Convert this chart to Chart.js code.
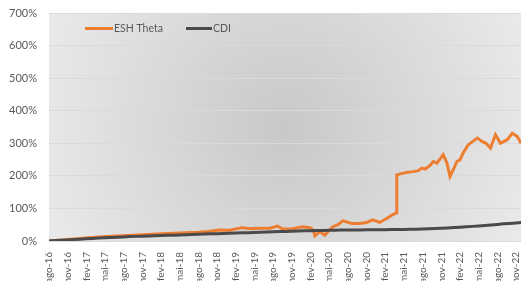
<!DOCTYPE html>
<html>
<head>
<meta charset="utf-8">
<script src="https://cdn.jsdelivr.net/npm/chart.js@4.4.1/dist/chart.umd.min.js"></script>
<style>
  html, body { margin: 0; padding: 0; background: #ffffff; }
  #wrap { width: 521px; height: 281px; }
</style>
</head>
<body>
<div id="wrap"><canvas id="equityChart" width="521" height="281"></canvas></div>
<script>
// x-axis tick labels, one every 3 months starting at ago-16 (month 0)
const tickLabels = ['ago-16', 'nov-16', 'fev-17', 'mai-17', 'ago-17', 'nov-17', 'fev-18', 'mai-18',
    'ago-18', 'nov-18', 'fev-19', 'mai-19', 'ago-19', 'nov-19', 'fev-20', 'mai-20', 'ago-20',
    'nov-20', 'fev-21', 'mai-21', 'ago-21', 'nov-21', 'fev-22', 'mai-22', 'ago-22', 'nov-22'];

// ESH Theta: months since ago-16 and cumulative return (%)
const eshMonths = [0, 2, 4, 6, 8, 10, 12, 14, 16, 18, 20, 22, 24, 25.5, 27.4, 29, 31, 32.5, 33.8,
    35.5, 36.7, 37.5, 39, 40.7, 41.9, 42.4, 42.7, 43.5, 44.3, 44.8, 45.6, 46.4, 47.2, 48.6, 49.9,
    51, 52, 53.1, 54.3, 55.1, 55.6, 55.8, 55.85, 56.4, 57.6, 58.5, 59.3, 59.9, 60.4, 61.2, 61.7,
    62.3, 63.3, 63.9, 64.4, 64.9, 65.5, 66, 66.5, 67.3, 68.8, 69.6, 70.2, 70.9, 71.7, 72.5, 73.6,
    74.4, 75.2, 75.8];
const eshValues = [0, 3, 6, 9, 12, 14.5, 16.5, 18.5, 20, 22, 23.5, 25.5, 27, 29, 34, 33, 41, 38, 39,
    39, 46, 37, 37, 44, 41, 35, 16, 29, 18, 29, 44, 50, 62, 54, 54,
    57, 65, 57, 70, 80, 85, 87, 203, 206, 211, 213, 216, 224, 221, 232, 244,
    239, 265, 240, 198, 218, 244, 249, 270, 295, 316, 305, 300, 285, 326, 300, 311,
    331, 321, 300];

// CDI: cumulative return (%), one value per month from ago-16
const cdiValues = [0, 1.2, 2.3, 3.4, 4.5, 5.7, 6.8, 7.8, 8.9, 9.8, 10.8, 11.7, 12.6, 13.5, 14.2,
    14.9, 15.6, 16.2, 16.8, 17.4, 18.0, 18.6, 19.3, 19.9, 20.6, 21.2, 21.9, 22.5, 23.1, 23.8,
    24.4, 25.0, 25.6, 26.3, 26.9, 27.6, 28.2, 28.9, 29.5, 30.1, 30.6, 31.1, 31.6, 32.0, 32.5,
    32.8, 33.1, 33.4, 33.6, 33.8, 34.0, 34.2, 34.4, 34.6, 34.8, 35.0, 35.3, 35.6, 36.0, 36.4,
    37.0, 37.6, 38.3, 39.1, 40.1, 41.1, 42.2, 43.5, 44.9, 46.2, 47.8, 49.3, 51.0, 52.6, 54.0,
    55.5, 57.0];

const yTicks = [0, 100, 200, 300, 400, 500, 600, 700];

const textColor = '#595959';
const fontFamily = 'Lato, "Noto Sans", sans-serif';

// Grey radial fill behind the plot area
const plotBackground = {
    id: 'plotBackground',
    beforeDraw(chart) {
        const { ctx, chartArea: a } = chart;
        const cx = (a.left + a.right) / 2;
        const cy = (a.top + a.bottom) / 2;
        const g = ctx.createRadialGradient(cx, cy, 0, cx, cy, 270);
        g.addColorStop(0, '#c8c8c8');
        g.addColorStop(1, '#ebebeb');
        ctx.save();
        ctx.fillStyle = g;
        ctx.fillRect(a.left, a.top, a.right - a.left, a.bottom - a.top);
        ctx.restore();
    }
};

// Legend drawn inside the plot area, like the original
const innerLegend = {
    id: 'innerLegend',
    afterDraw(chart) {
        const { ctx } = chart;
        const starts = [85, 186];
        const lens = [28, 26];
        const y = 28.5;
        ctx.save();
        ctx.font = '10.5px ' + fontFamily;
        ctx.textBaseline = 'middle';
        chart.data.datasets.forEach((ds, i) => {
            ctx.strokeStyle = ds.borderColor;
            ctx.lineWidth = 3;
            ctx.beginPath();
            ctx.moveTo(starts[i], y);
            ctx.lineTo(starts[i] + lens[i], y);
            ctx.stroke();
            ctx.fillStyle = textColor;
            ctx.fillText(ds.label, starts[i] + lens[i] + 1, y);
        });
        ctx.restore();
    }
};

const ctx = document.getElementById('equityChart').getContext('2d');
new Chart(ctx, {
    type: 'line',
    data: {
        datasets: [{
            label: 'ESH Theta',
            data: eshMonths.map((m, i) => ({ x: m, y: eshValues[i] })),
            borderColor: '#ed7d31',
            borderWidth: 3,
            pointRadius: 0,
            tension: 0,
            order: 1
        }, {
            label: 'CDI',
            data: cdiValues.map((v, i) => ({ x: i, y: v })),
            borderColor: '#4a4a4a',
            borderWidth: 3,
            pointRadius: 0,
            tension: 0,
            order: 0
        }]
    },
    options: {
        responsive: false,
        animation: false,
        layout: { padding: { top: 13, right: 0, left: 0, bottom: 0 } },
        plugins: {
            legend: { display: false },
            tooltip: { enabled: false }
        },
        scales: {
            x: {
                type: 'linear',
                min: 0,
                max: 75.8,
                grid: { display: false },
                border: { display: false },
                ticks: {
                    stepSize: 3,
                    includeBounds: false,
                    autoSkip: false,
                    minRotation: 90,
                    maxRotation: 90,
                    padding: 3,
                    color: textColor,
                    font: { family: fontFamily, size: 10 },
                    callback: (v) => tickLabels[Math.round(v / 3)]
                },
                afterFit(scale) {
                    scale.height = 40;
                    scale.paddingLeft = 0;
                    scale.paddingRight = 0;
                }
            },
            y: {
                min: 0,
                max: 700,
                afterBuildTicks(scale) { scale.ticks = yTicks.map(v => ({ value: v })); },
                grid: { color: '#dadada', lineWidth: 1, drawTicks: false },
                border: { display: false },
                ticks: {
                    padding: 12,
                    color: textColor,
                    font: { family: fontFamily, size: 11 },
                    callback: (v) => v + '%'
                },
                afterFit(scale) {
                    scale.width = 49;
                    scale.paddingTop = 0;
                    scale.paddingBottom = 0;
                }
            }
        }
    },
    plugins: [plotBackground, innerLegend]
});
</script>
</body>
</html>
